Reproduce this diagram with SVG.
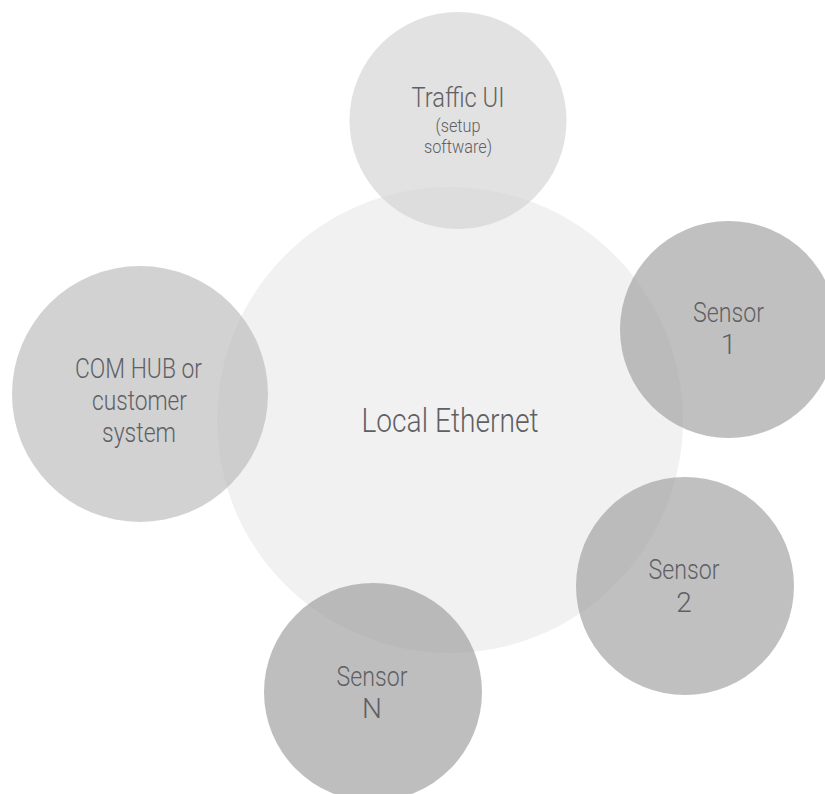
<svg xmlns="http://www.w3.org/2000/svg" width="825" height="794" viewBox="0 0 825 794">
<style>
.hub{fill:#f1f1f1}
.n{fill-opacity:0.64}
.t{font-family:Roboto,"Liberation Sans",sans-serif;font-weight:300;fill:#5f6064;text-anchor:middle}
</style>
<rect width="825" height="794" fill="#ffffff"/>
<g id="local-ethernet">
<circle class="hub" cx="450" cy="420" r="233"/>
<text class="t" x="450" y="432" font-size="33" textLength="177" lengthAdjust="spacingAndGlyphs">Local Ethernet</text>
</g>
<g id="connectors"></g>
<g id="traffic-ui">
<circle class="n" cx="458" cy="120.5" r="108.5" fill="#d2d2d2"/>
<text class="t" x="458" y="107" font-size="28" textLength="93" lengthAdjust="spacingAndGlyphs">Traffic UI</text>
<text class="t" x="458" y="132" font-size="18" textLength="45" lengthAdjust="spacingAndGlyphs">(setup</text>
<text class="t" x="458" y="153" font-size="18" textLength="68" lengthAdjust="spacingAndGlyphs">software)</text>
</g>
<g id="sensor-1">
<circle class="n" cx="728.5" cy="329.5" r="108.5" fill="#9d9d9d"/>
<text class="t" x="728.5" y="322" font-size="28" textLength="71" lengthAdjust="spacingAndGlyphs">Sensor</text>
<text class="t" x="728.5" y="354" font-size="28">1</text>
</g>
<g id="com-hub">
<circle class="n" cx="140" cy="394" r="128" fill="#b9b9b9"/>
<text class="t" x="138.5" y="378" font-size="28" textLength="127" lengthAdjust="spacingAndGlyphs">COM HUB or</text>
<text class="t" x="139.5" y="410" font-size="28" textLength="95" lengthAdjust="spacingAndGlyphs">customer</text>
<text class="t" x="139" y="442" font-size="28" textLength="74" lengthAdjust="spacingAndGlyphs">system</text>
</g>
<g id="sensor-2">
<circle class="n" cx="685" cy="586" r="109" fill="#9d9d9d"/>
<text class="t" x="684" y="579" font-size="28" textLength="71" lengthAdjust="spacingAndGlyphs">Sensor</text>
<text class="t" x="684" y="612" font-size="28">2</text>
</g>
<g id="sensor-n">
<circle class="n" cx="373" cy="692" r="109" fill="#9a9a9a"/>
<text class="t" x="372" y="686" font-size="28" textLength="71" lengthAdjust="spacingAndGlyphs">Sensor</text>
<text class="t" x="372" y="718" font-size="28">N</text>
</g>
</svg>
